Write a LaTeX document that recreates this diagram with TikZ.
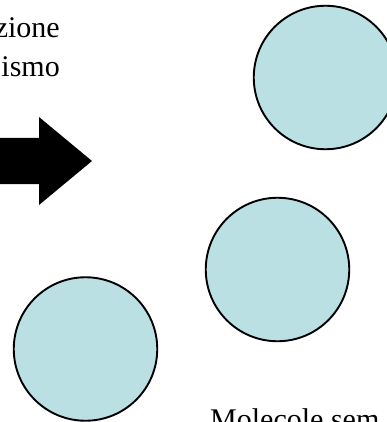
\documentclass[tikz,border=0pt]{standalone}
\usepackage{fontspec}
\setmainfont{Liberation Serif}
\definecolor{moleculefill}{RGB}{187,224,228}
\tikzset{
	molecule/.style={draw, circle, line width=1.9pt, fill=moleculefill, minimum size=143.5pt, inner sep=0pt},
	label text/.style={font=\fontsize{30}{39}\selectfont, inner sep=0pt}
}
\begin{document}
\begin{tikzpicture}[x=1pt, y=-1pt]
		
		\path[use as bounding box, clip] (0,0) rectangle (387,422);
		
		%Text
		\node (LineOne) at (60,38) [label text, anchor=base east]{zione};
		\node (LineTwo) at (60,77) [label text, anchor=base east]{ismo};
		\node (Molecules) at (210,429.5) [label text, anchor=base west]{Molecole sem};
		
		%Arrow
		\fill[black] (0,138) -- (39,138) -- (39,117) -- (92,161) -- (39,205) -- (39,184) 
		-- (0,184) -- cycle;
		
		%Molecules
		\node (MoleculeTop) at (325.5,77.5) [molecule]{};
		\node (MoleculeMiddle) at (277.5,269.5) [molecule]{};
		\node (MoleculeBottom) at (85.5,349) [molecule]{};
		
		\end{tikzpicture}
\end{document}
